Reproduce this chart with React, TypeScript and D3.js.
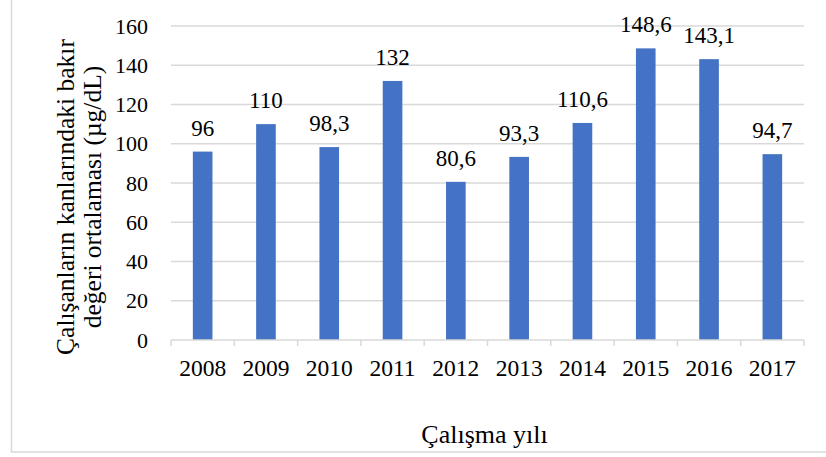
import React from "react";
import * as d3 from "d3";

const years = ["2008", "2009", "2010", "2011", "2012", "2013", "2014", "2015", "2016", "2017"];
const values = [96, 110, 98.3, 132, 80.6, 93.3, 110.6, 148.6, 143.1, 94.7];
const valueLabels = ["96", "110", "98,3", "132", "80,6", "93,3", "110,6", "148,6", "143,1", "94,7"];
const yTicks = [0, 20, 40, 60, 80, 100, 120, 140, 160];
const yTitleLines = ["Çalışanların kanlarındaki bakır", "değeri ortalaması (µg/dL)"];
const xTitle = "Çalışma yılı";

export default function App() {
  const W = 826, H = 457;
  const left = 171, right = 804, top = 26, bottom = 340;
  const x = d3.scaleBand<string>().domain(years).range([left, right]).paddingInner(0.69).paddingOuter(0.345);
  const xb = d3.scaleBand<string>().domain(years).range([left, right]);
  const y = d3.scaleLinear().domain([0, 160]).range([bottom, top]);
  const font = "'Liberation Serif', 'Times New Roman', serif";
  const grid = "#d9d9d9";
  return (
    <svg width={W} height={H} style={{ position: "absolute", left: 0, top: 0, background: "#fff" }} fontFamily={font}>
      <rect x={11.5} y={-10} width={840} height={462} fill="#fff" stroke={grid} strokeWidth={1.5} />
      {yTicks.map((t) => (
        <g key={t}>
          {t > 0 && <line x1={left} x2={right} y1={y(t)} y2={y(t)} stroke={grid} strokeWidth={1.3} />}
          <text x={148} y={y(t)} dy="0.35em" textAnchor="end" fontSize={22} fill="#000">{t}</text>
        </g>
      ))}
      {years.map((yr, i) => (
        <g key={yr}>
          <rect x={x(yr)} y={y(values[i])} width={x.bandwidth()} height={bottom - y(values[i])} fill="#4472C4" />
          <text x={x(yr)! + x.bandwidth() / 2} y={y(values[i]) - 16} textAnchor="middle" fontSize={23} fill="#000">{valueLabels[i]}</text>
          <text x={xb(yr)! + xb.bandwidth() / 2} y={376} textAnchor="middle" fontSize={23.5} fill="#000">{yr}</text>
        </g>
      ))}
      <line x1={left} x2={right} y1={bottom} y2={bottom} stroke={grid} strokeWidth={1.5} />
      {[...years.map((yr) => xb(yr)!), right].map((px, i) => (
        <line key={i} x1={px} x2={px} y1={bottom} y2={bottom + 6} stroke={grid} strokeWidth={1.5} />
      ))}
      {yTitleLines.map((l, i) => (
        <text key={i} transform={`translate(${74 + i * 27},197) rotate(-90)`} textAnchor="middle" fontSize={25.5} fill="#000">{l}</text>
      ))}
      <text x={484.5} y={443} textAnchor="middle" fontSize={26} fill="#000">{xTitle}</text>
    </svg>
  );
}
